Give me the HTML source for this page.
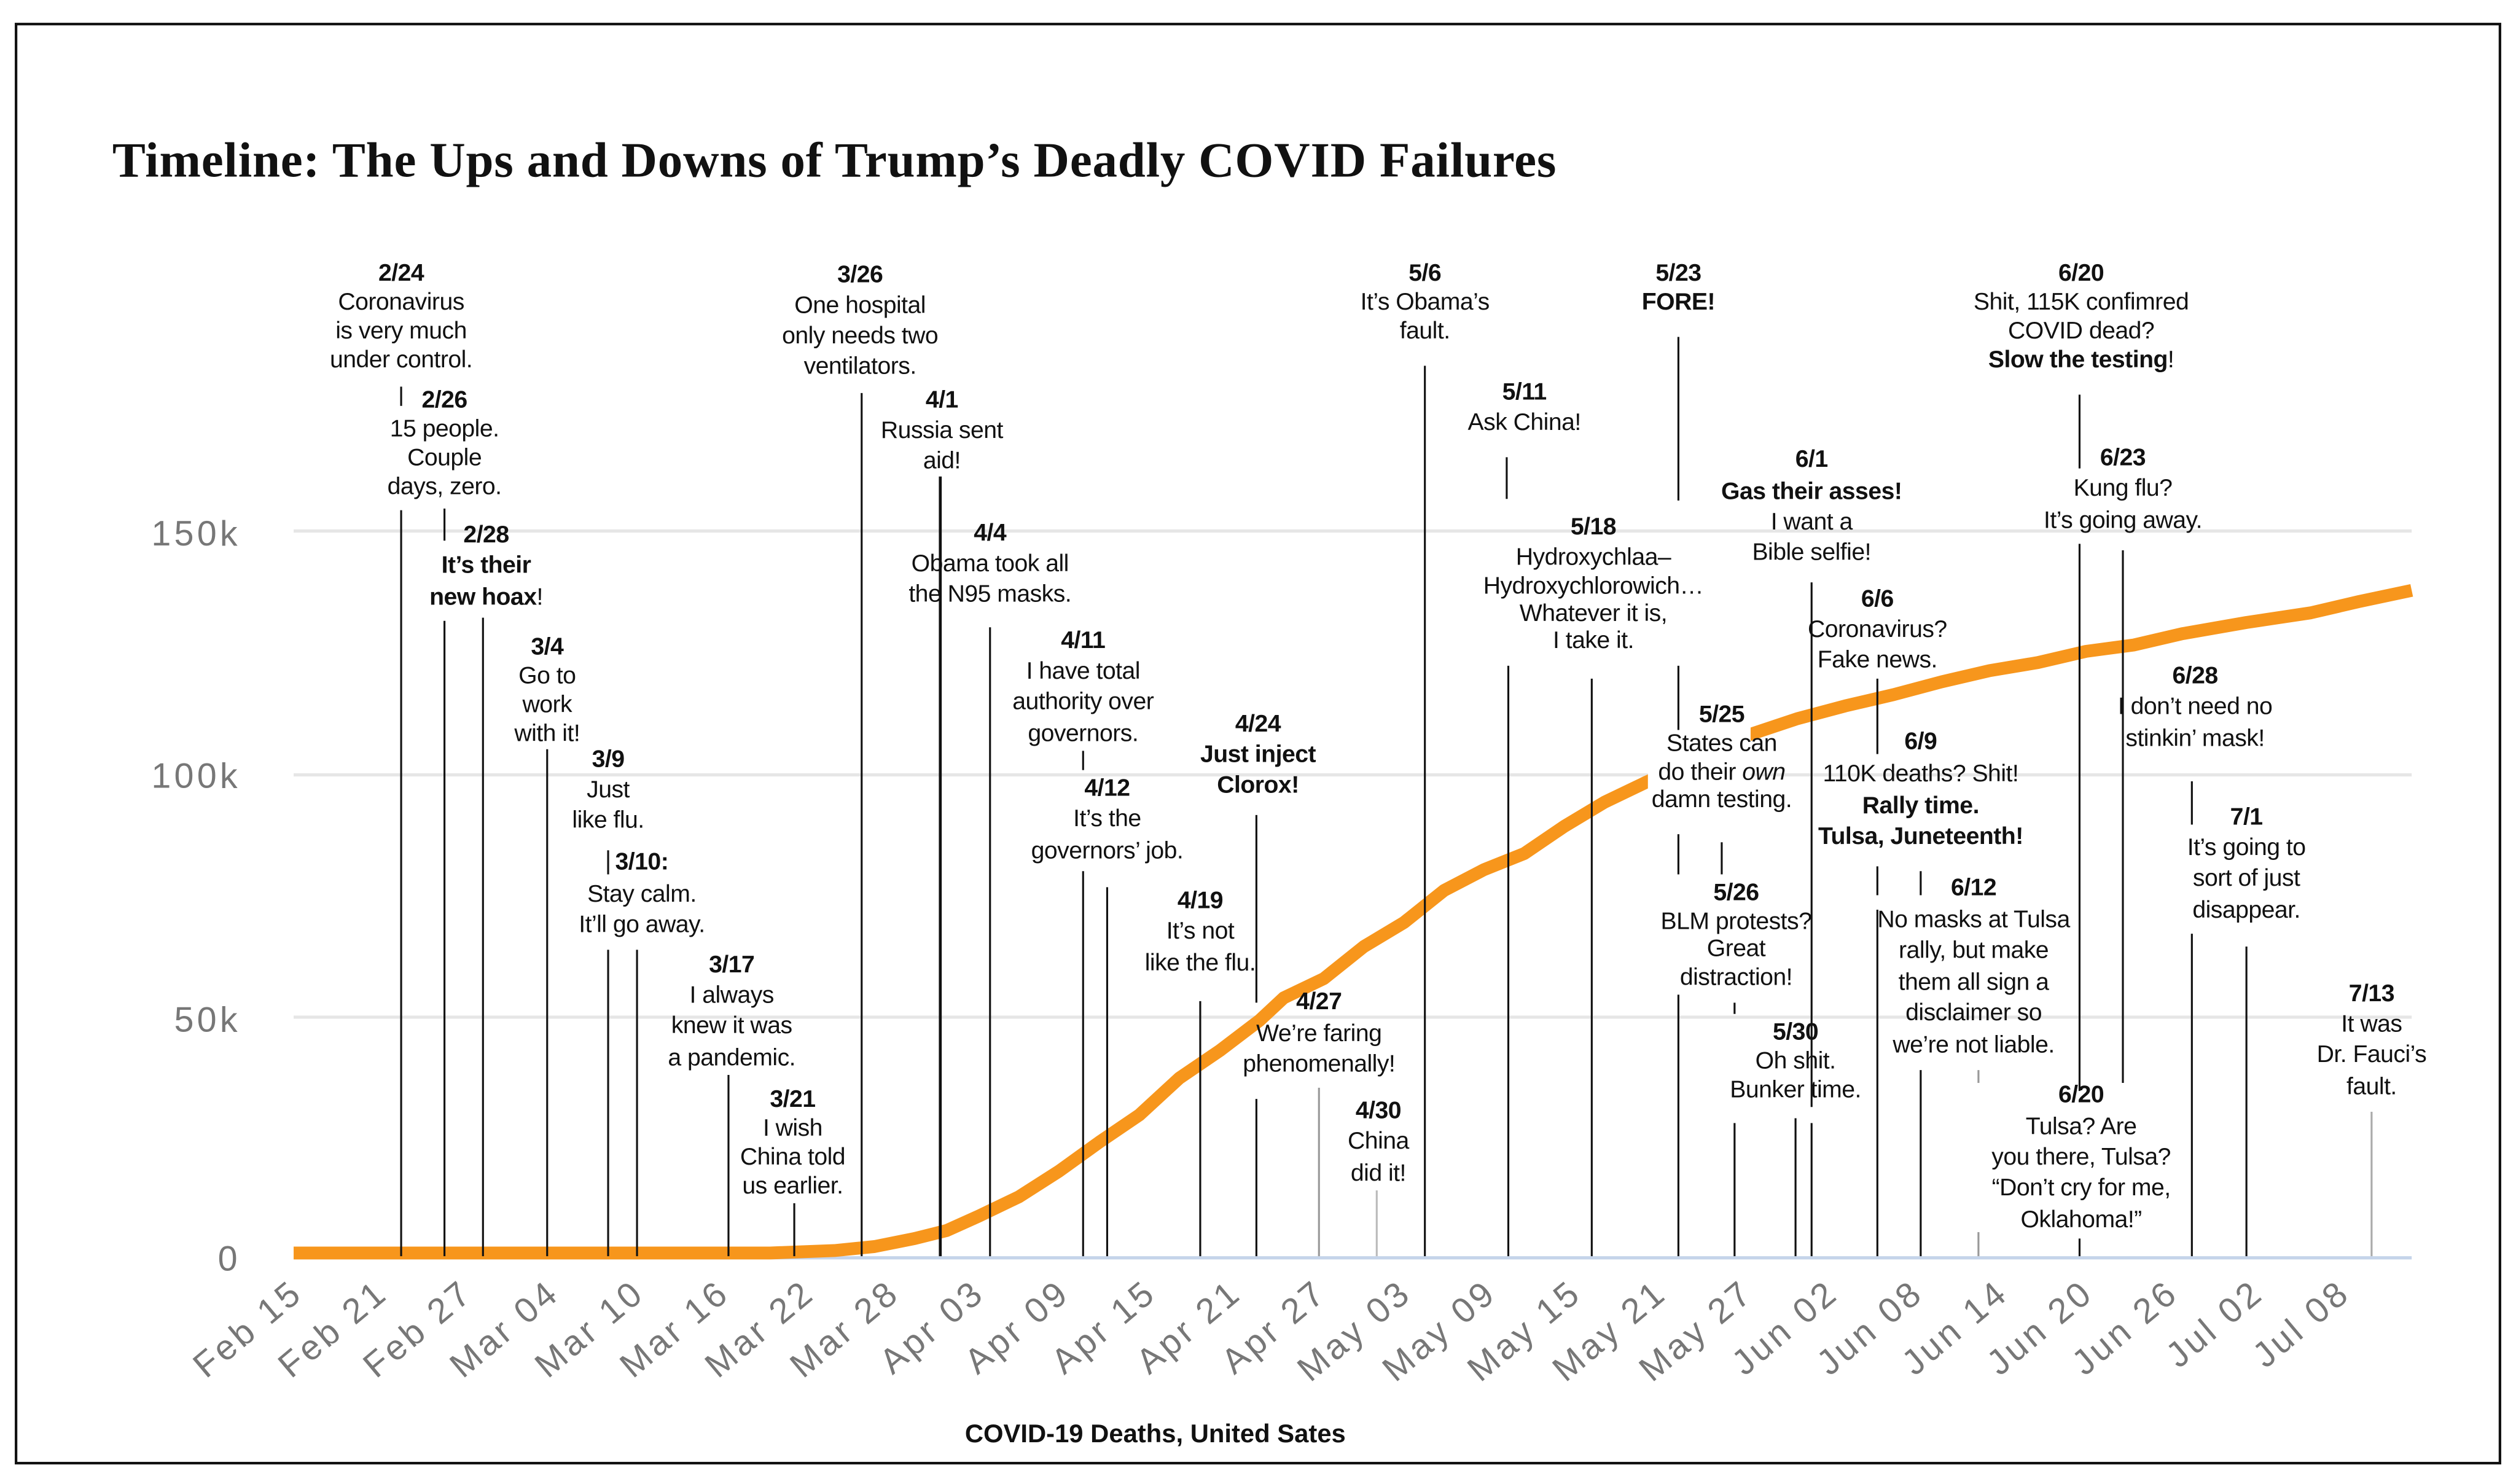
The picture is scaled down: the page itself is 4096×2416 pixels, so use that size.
<!DOCTYPE html>
<html><head><meta charset="utf-8"><style>
html,body{margin:0;padding:0;background:#fff}
svg{display:block}
.a{font-family:"Liberation Sans",Arial,sans-serif;font-size:15px;fill:#111;text-anchor:middle;letter-spacing:-0.2px}
.b{font-weight:bold}
.ax{font-family:"Liberation Sans",Arial,sans-serif;fill:#777;font-size:22px;letter-spacing:2px}
.v{stroke:#111;stroke-width:1.2}
</style></head><body>
<svg width="4096" height="2416" viewBox="0 0 1568 925" preserveAspectRatio="none" xmlns="http://www.w3.org/2000/svg">
<rect x="0" y="0" width="1568" height="925" fill="#fff"/>
<rect x="10" y="15" width="1548" height="897" fill="none" stroke="#111" stroke-width="1.6"/>
<text x="70" y="110" font-family="Liberation Serif,serif" font-weight="bold" font-size="31" letter-spacing="0.3" fill="#111">Timeline: The Ups and Downs of Trump’s Deadly COVID Failures</text>
<g stroke="#e6e6e6" stroke-width="2">
<line x1="183" y1="331" x2="1503" y2="331"/><line x1="183" y1="483" x2="1503" y2="483"/><line x1="183" y1="634" x2="1503" y2="634"/>
</g>
<line x1="183" y1="784" x2="1503" y2="784" stroke="#c5d4ea" stroke-width="2"/>
<g class="ax" text-anchor="end">
<text x="150" y="340">150k</text><text x="150" y="491">100k</text><text x="150" y="643">50k</text><text x="150" y="792">0</text>
</g>
<g class="ax" text-anchor="end">
<text transform="translate(190,808) rotate(-40)">Feb 15</text>
<text transform="translate(243,808) rotate(-40)">Feb 21</text>
<text transform="translate(296,808) rotate(-40)">Feb 27</text>
<text transform="translate(350,808) rotate(-40)">Mar 04</text>
<text transform="translate(403,808) rotate(-40)">Mar 10</text>
<text transform="translate(456,808) rotate(-40)">Mar 16</text>
<text transform="translate(509,808) rotate(-40)">Mar 22</text>
<text transform="translate(562,808) rotate(-40)">Mar 28</text>
<text transform="translate(615,808) rotate(-40)">Apr 03</text>
<text transform="translate(668,808) rotate(-40)">Apr 09</text>
<text transform="translate(722,808) rotate(-40)">Apr 15</text>
<text transform="translate(775,808) rotate(-40)">Apr 21</text>
<text transform="translate(828,808) rotate(-40)">Apr 27</text>
<text transform="translate(881,808) rotate(-40)">May 03</text>
<text transform="translate(934,808) rotate(-40)">May 09</text>
<text transform="translate(987,808) rotate(-40)">May 15</text>
<text transform="translate(1040,808) rotate(-40)">May 21</text>
<text transform="translate(1094,808) rotate(-40)">May 27</text>
<text transform="translate(1147,808) rotate(-40)">Jun 02</text>
<text transform="translate(1200,808) rotate(-40)">Jun 08</text>
<text transform="translate(1253,808) rotate(-40)">Jun 14</text>
<text transform="translate(1306,808) rotate(-40)">Jun 20</text>
<text transform="translate(1359,808) rotate(-40)">Jun 26</text>
<text transform="translate(1412,808) rotate(-40)">Jul 02</text>
<text transform="translate(1466,808) rotate(-40)">Jul 08</text>
</g>
<polyline fill="none" stroke="#f7961c" stroke-width="8" stroke-linejoin="round" points="183,781 480,781 520,779.5 545,777 570,772 590,767 610,758 635,746 660,730 685,712 710,695 735,672 760,655 785,636 800,622 825,610 850,590 875,575 900,555 925,542 950,532 975,515 1000,500 1025,488 1060,472 1090,458 1120,448 1150,440 1180,433 1210,425 1240,418 1270,413 1300,406 1330,402 1360,395 1400,388 1440,382 1470,375 1503,368"/>
<rect x="1027" y="440" width="64" height="66" fill="#fff"/>
<g class="v">
<line x1="250" y1="241" x2="250" y2="253"/><line x1="250" y1="318" x2="250" y2="783"/>
<line x1="277" y1="317" x2="277" y2="337"/><line x1="277" y1="387" x2="277" y2="783"/>
<line x1="301" y1="385" x2="301" y2="783"/>
<line x1="341" y1="467" x2="341" y2="783"/>
<line x1="379" y1="530" x2="379" y2="545"/><line x1="379" y1="592" x2="379" y2="783"/>
<line x1="397" y1="592" x2="397" y2="783"/>
<line x1="454" y1="670" x2="454" y2="783"/>
<line x1="495" y1="750" x2="495" y2="783"/>
<line x1="537" y1="245" x2="537" y2="783"/>
<line x1="586" y1="297" x2="586" y2="783" stroke-width="1.8"/>
<line x1="617" y1="391" x2="617" y2="783"/>
<line x1="675" y1="468" x2="675" y2="480"/><line x1="675" y1="543" x2="675" y2="783"/>
<line x1="690" y1="553" x2="690" y2="783"/>
<line x1="748" y1="624" x2="748" y2="783"/>
<line x1="783" y1="508" x2="783" y2="625"/><line x1="783" y1="685" x2="783" y2="783"/>
<line x1="822" y1="678" x2="822" y2="783" stroke="#999"/>
<line x1="858" y1="742" x2="858" y2="783" stroke="#bbb"/>
<line x1="888" y1="228" x2="888" y2="783"/>
<line x1="939" y1="285" x2="939" y2="311"/><line x1="940" y1="415" x2="940" y2="783"/>
<line x1="992" y1="423" x2="992" y2="783"/>
<line x1="1046" y1="210" x2="1046" y2="312"/><line x1="1046" y1="415" x2="1046" y2="455"/><line x1="1046" y1="520" x2="1046" y2="545"/><line x1="1046" y1="620" x2="1046" y2="783"/>
<line x1="1073" y1="525" x2="1073" y2="545"/>
<line x1="1081" y1="625" x2="1081" y2="632"/><line x1="1081" y1="700" x2="1081" y2="783"/>
<line x1="1119" y1="697" x2="1119" y2="783"/>
<line x1="1129" y1="363" x2="1129" y2="690"/><line x1="1129" y1="700" x2="1129" y2="783"/>
<line x1="1170" y1="423" x2="1170" y2="470"/><line x1="1170" y1="540" x2="1170" y2="558"/><line x1="1170" y1="567" x2="1170" y2="783"/>
<line x1="1197" y1="543" x2="1197" y2="558"/><line x1="1197" y1="667" x2="1197" y2="783"/>
<line x1="1233" y1="667" x2="1233" y2="675" stroke="#999"/><line x1="1233" y1="768" x2="1233" y2="783" stroke="#999"/>
<line x1="1296" y1="246" x2="1296" y2="292"/><line x1="1296" y1="339" x2="1296" y2="680"/><line x1="1296" y1="772" x2="1296" y2="783"/>
<line x1="1323" y1="343" x2="1323" y2="675"/>
<line x1="1366" y1="487" x2="1366" y2="514"/><line x1="1366" y1="582" x2="1366" y2="783"/>
<line x1="1400" y1="590" x2="1400" y2="783"/>
<line x1="1478" y1="693" x2="1478" y2="783" stroke="#aaa"/>
</g>
<g class="a">
<text x="250" y="175" class="b">2/24</text><text x="250" y="193">Coronavirus</text><text x="250" y="211">is very much</text><text x="250" y="229">under control.</text>
<text x="277" y="254" class="b">2/26</text><text x="277" y="272">15 people.</text><text x="277" y="290">Couple</text><text x="277" y="308">days, zero.</text>
<text x="303" y="338" class="b">2/28</text><text x="303" y="357" class="b">It’s their</text><text x="303" y="377"><tspan class="b">new hoax</tspan>!</text>
<text x="341" y="408" class="b">3/4</text><text x="341" y="426">Go to</text><text x="341" y="444">work</text><text x="341" y="462">with it!</text>
<text x="379" y="478" class="b">3/9</text><text x="379" y="497">Just</text><text x="379" y="516">like flu.</text>
<text x="400" y="542" class="b">3/10:</text><text x="400" y="562">Stay calm.</text><text x="400" y="581">It’ll go away.</text>
<text x="456" y="606" class="b">3/17</text><text x="456" y="625">I always</text><text x="456" y="644">knew it was</text><text x="456" y="664">a pandemic.</text>
<text x="494" y="690" class="b">3/21</text><text x="494" y="708">I wish</text><text x="494" y="726">China told</text><text x="494" y="744">us earlier.</text>
<text x="536" y="176" class="b">3/26</text><text x="536" y="195">One hospital</text><text x="536" y="214">only needs two</text><text x="536" y="233">ventilators.</text>
<text x="587" y="254" class="b">4/1</text><text x="587" y="273">Russia sent</text><text x="587" y="292">aid!</text>
<text x="617" y="337" class="b">4/4</text><text x="617" y="356">Obama took all</text><text x="617" y="375">the N95 masks.</text>
<text x="675" y="404" class="b">4/11</text><text x="675" y="423">I have total</text><text x="675" y="442">authority over</text><text x="675" y="462">governors.</text>
<text x="690" y="496" class="b">4/12</text><text x="690" y="515">It’s the</text><text x="690" y="535">governors’ job.</text>
<text x="748" y="566" class="b">4/19</text><text x="748" y="585">It’s not</text><text x="748" y="605">like the flu.</text>
<text x="784" y="456" class="b">4/24</text><text x="784" y="475" class="b">Just inject</text><text x="784" y="494" class="b">Clorox!</text>
<text x="822" y="629" class="b">4/27</text><text x="822" y="649">We’re faring</text><text x="822" y="668">phenomenally!</text>
<text x="859" y="697" class="b">4/30</text><text x="859" y="716">China</text><text x="859" y="736">did it!</text>
<text x="888" y="175" class="b">5/6</text><text x="888" y="193">It’s Obama’s</text><text x="888" y="211">fault.</text>
<text x="950" y="249" class="b">5/11</text><text x="950" y="268">Ask China!</text>
<text x="993" y="333" class="b">5/18</text><text x="993" y="352">Hydroxychlaa–</text><text x="993" y="370">Hydroxychlorowich…</text><text x="993" y="387">Whatever it is,</text><text x="993" y="404">I take it.</text>
<text x="1046" y="175" class="b">5/23</text><text x="1046" y="193" class="b">FORE!</text>
<text x="1073" y="450" class="b">5/25</text><text x="1073" y="468">States can</text><text x="1073" y="486">do their <tspan font-style="italic">own</tspan></text><text x="1073" y="503">damn testing.</text>
<text x="1082" y="561" class="b">5/26</text><text x="1082" y="579">BLM protests?</text><text x="1082" y="596">Great</text><text x="1082" y="614">distraction!</text>
<text x="1119" y="648" class="b">5/30</text><text x="1119" y="666">Oh shit.</text><text x="1119" y="684">Bunker time.</text>
<text x="1129" y="291" class="b">6/1</text><text x="1129" y="311" class="b">Gas their asses!</text><text x="1129" y="330">I want a</text><text x="1129" y="349">Bible selfie!</text>
<text x="1170" y="378" class="b">6/6</text><text x="1170" y="397">Coronavirus?</text><text x="1170" y="416">Fake news.</text>
<text x="1197" y="467" class="b">6/9</text><text x="1197" y="487">110K deaths? Shit!</text><text x="1197" y="507" class="b">Rally time.</text><text x="1197" y="526" class="b">Tulsa, Juneteenth!</text>
<text x="1230" y="558" class="b">6/12</text><text x="1230" y="578">No masks at Tulsa</text><text x="1230" y="597">rally, but make</text><text x="1230" y="617">them all sign a</text><text x="1230" y="636">disclaimer so</text><text x="1230" y="656">we’re not liable.</text>
<text x="1297" y="175" class="b">6/20</text><text x="1297" y="193">Shit, 115K confimred</text><text x="1297" y="211">COVID dead?</text><text x="1297" y="229"><tspan class="b">Slow the testing</tspan>!</text>
<text x="1323" y="290" class="b">6/23</text><text x="1323" y="309">Kung flu?</text><text x="1323" y="329">It’s going away.</text>
<text x="1297" y="687" class="b">6/20</text><text x="1297" y="707">Tulsa? Are</text><text x="1297" y="726">you there, Tulsa?</text><text x="1297" y="745">“Don’t cry for me,</text><text x="1297" y="765">Oklahoma!”</text>
<text x="1368" y="426" class="b">6/28</text><text x="1368" y="445">I don’t need no</text><text x="1368" y="465">stinkin’ mask!</text>
<text x="1400" y="514" class="b">7/1</text><text x="1400" y="533">It’s going to</text><text x="1400" y="552">sort of just</text><text x="1400" y="572">disappear.</text>
<text x="1478" y="624" class="b">7/13</text><text x="1478" y="643">It was</text><text x="1478" y="662">Dr. Fauci’s</text><text x="1478" y="682">fault.</text>
</g>
<text x="720" y="899" font-family="Liberation Sans,Arial,sans-serif" font-weight="bold" font-size="16" text-anchor="middle" fill="#111">COVID-19 Deaths, United Sates</text>
</svg>
</body></html>
